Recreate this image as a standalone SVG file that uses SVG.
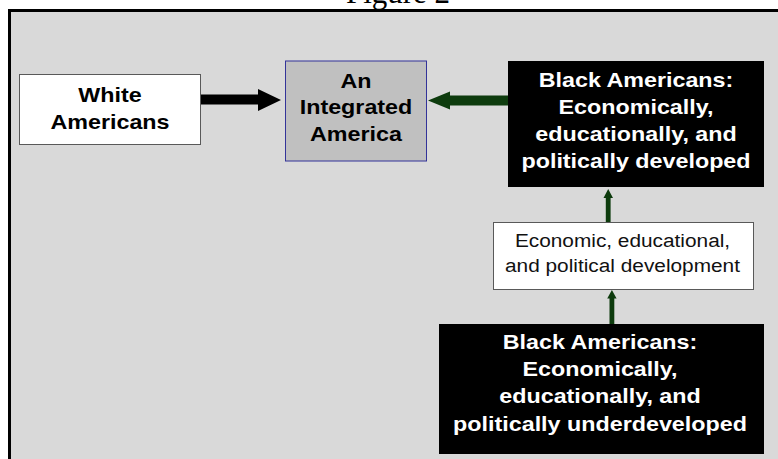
<svg xmlns="http://www.w3.org/2000/svg" width="778" height="459" viewBox="0 0 778 459">
<style>
.bold{font-family:"Liberation Sans",Arial,sans-serif;font-weight:bold;font-size:20px;text-anchor:middle}
.reg{font-family:"Liberation Sans",Arial,sans-serif;font-size:18.6px;text-anchor:middle;fill:#111}
.wt{fill:#ffffff}
.bk{fill:#000000}
.green{fill:#0d3b0d}
.blackarrow{fill:#000000}
</style>
<rect x="0" y="0" width="778" height="459" fill="#ffffff"/>
<text x="398" y="2.5" font-family="'Liberation Serif','Times New Roman',serif" font-size="31" text-anchor="middle" fill="#000">Figure 2</text>
<rect x="9.5" y="10.5" width="790" height="470" fill="#d9d9d9" stroke="#000" stroke-width="3"/>

<g id="connectors">
  <polygon class="blackarrow" points="200,94.5 258,94.5 258,89 281,100 258,111 258,104.5 200,104.5"/>
  <polygon class="green" points="508,95.5 450,95.5 450,91.5 428,100.5 450,109.5 450,105.5 508,105.5"/>
  <polygon class="green" points="605.8,222 605.8,198 603.5,198 608.2,189 613,198 610.6,198 610.6,222"/>
  <polygon class="green" points="609.5,324 609.5,298.5 607.2,298.5 611.9,290 616.6,298.5 614.3,298.5 614.3,324"/>
</g>

<g id="white-americans">
  <rect x="19.5" y="74.5" width="181" height="70" fill="#ffffff" stroke="#595959" stroke-width="1"/>
  <g transform="translate(110,0) scale(1.165,1)">
    <text class="bold bk" x="0" y="101.7">White</text>
    <text class="bold bk" x="0" y="129.3">Americans</text>
  </g>
</g>

<g id="integrated-america">
  <rect x="285.5" y="61" width="141" height="100" fill="#c0c0c0" stroke="#333399" stroke-width="1"/>
  <g transform="translate(356,0) scale(1.165,1)">
    <text class="bold bk" x="0" y="87.7">An</text>
    <text class="bold bk" x="0" y="114.5">Integrated</text>
    <text class="bold bk" x="0" y="141.5">America</text>
  </g>
</g>

<g id="black-developed">
  <rect x="508" y="61" width="256" height="126" fill="#000000"/>
  <g transform="translate(636,0) scale(1.165,1)">
    <text class="bold wt" x="0" y="86.7">Black Americans:</text>
    <text class="bold wt" x="0" y="114">Economically,</text>
    <text class="bold wt" x="0" y="141.3">educationally, and</text>
    <text class="bold wt" x="0" y="168.3">politically developed</text>
  </g>
</g>

<g id="development">
  <rect x="493.5" y="222.5" width="260" height="67" fill="#ffffff" stroke="#595959" stroke-width="1"/>
  <g transform="translate(622.5,0) scale(1.12,1)">
    <text class="reg" x="0" y="246.7">Economic, educational,</text>
    <text class="reg" x="0" y="271.7">and political development</text>
  </g>
</g>

<g id="black-underdeveloped">
  <rect x="439" y="324" width="325" height="130" fill="#000000"/>
  <g transform="translate(600,0) scale(1.165,1)">
    <text class="bold wt" x="0" y="349.3">Black Americans:</text>
    <text class="bold wt" x="0" y="376">Economically,</text>
    <text class="bold wt" x="0" y="403.3">educationally, and</text>
    <text class="bold wt" x="0" y="430.7">politically underdeveloped</text>
  </g>
</g>
</svg>
